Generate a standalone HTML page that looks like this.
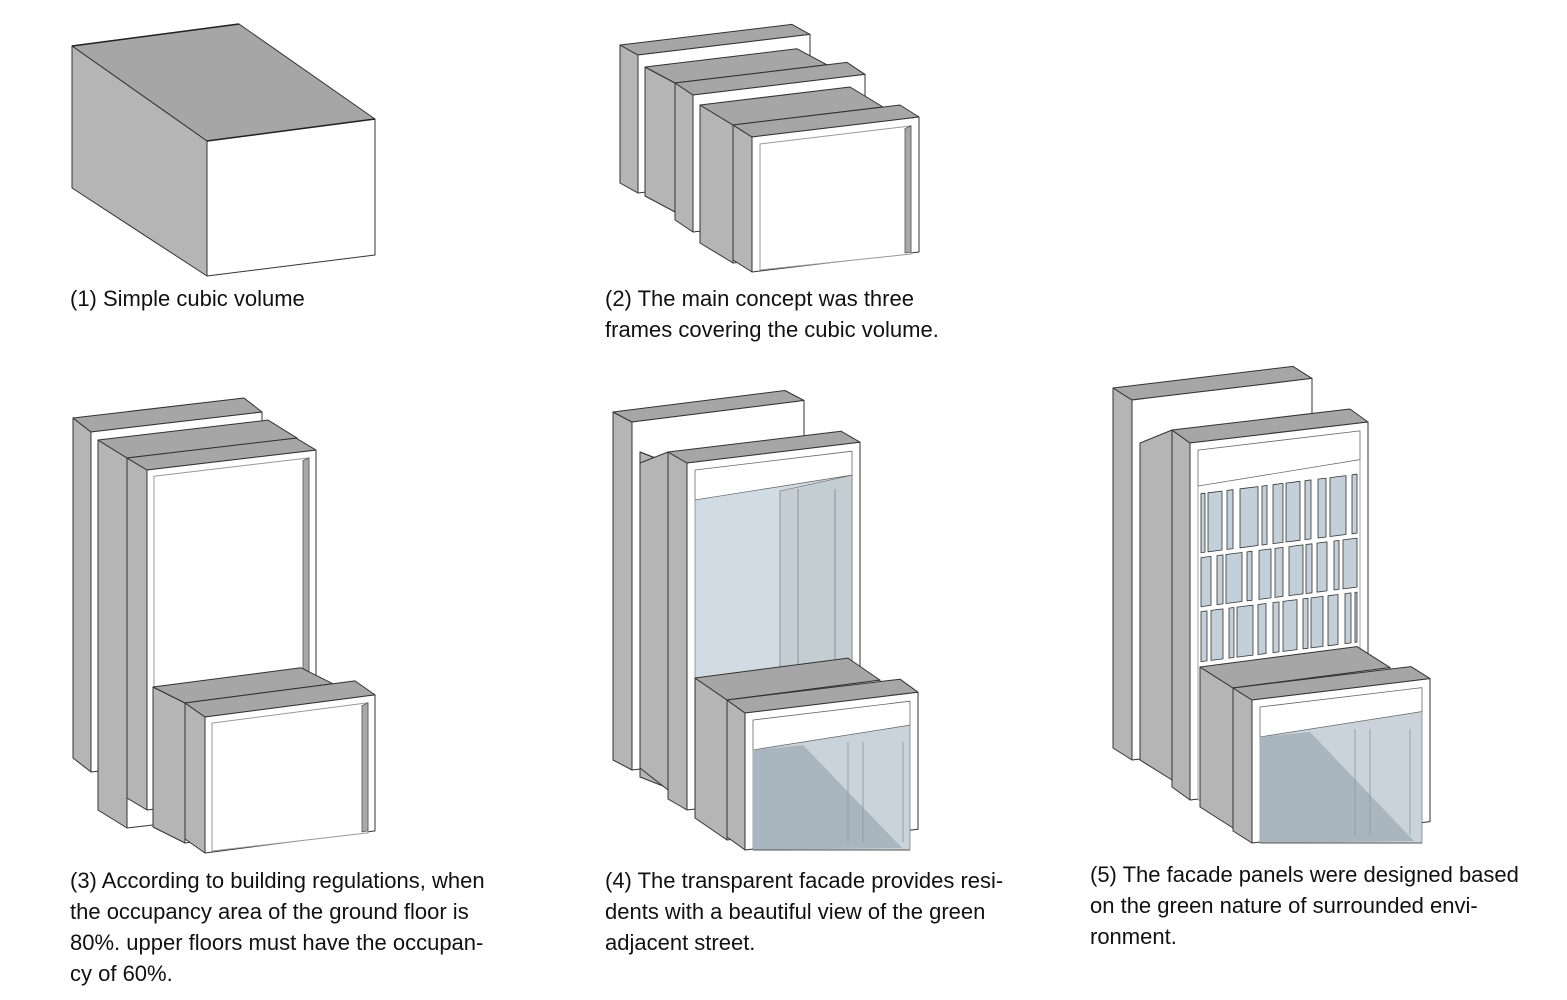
<!DOCTYPE html>
<html><head><meta charset="utf-8">
<style>
body{margin:0;background:#fff;width:1567px;height:1000px;overflow:hidden;position:relative;font-family:"Liberation Sans",sans-serif;}
.t{position:absolute;font-size:22px;line-height:31px;color:#111;white-space:nowrap;}
svg{position:absolute;left:0;top:0}
</style></head><body>
<svg id="s" width="1567" height="1000" viewBox="0 0 1567 1000"></svg>
<div class="t" style="left:70px;top:283px">(1) Simple cubic volume</div>
<div class="t" style="left:605px;top:283px">(2) The main concept was three<br>frames covering the cubic volume.</div>
<div class="t" style="left:70px;top:865px">(3) According to building regulations, when<br>the occupancy area of the ground floor is<br>80%. upper floors must have the occupan-<br>cy of 60%.</div>
<div class="t" style="left:605px;top:865px">(4) The transparent facade provides resi-<br>dents with a beautiful view of the green<br>adjacent street.</div>
<div class="t" style="left:1090px;top:859px">(5) The facade panels were designed based<br>on the green nature of surrounded envi-<br>ronment.</div>
<script>
var S=document.getElementById('s'),out='';
function poly(p,f,st,sw){out+='<polygon points="'+p.map(function(q){return q[0].toFixed(1)+','+q[1].toFixed(1)}).join(' ')+'" fill="'+f+'" stroke="'+(st||'#333')+'" stroke-width="'+(sw||1)+'" stroke-linejoin="round"/>';}
function line(a,b,c,w){out+='<line x1="'+a[0]+'" y1="'+a[1]+'" x2="'+b[0]+'" y2="'+b[1]+'" stroke="'+(c||'#555')+'" stroke-width="'+(w||1)+'"/>';}
function box(fx,fy,w,h,dx,dy,s,opt){
  opt=opt||{};
  var TL=[fx,fy],TR=[fx+w,fy-w*s],BR=[fx+w,fy-w*s+h],BL=[fx,fy+h];
  function b(p){return [p[0]-dx,p[1]-dy];}
  poly([TL,b(TL),b(BL),BL],'#b5b5b5');
  poly([b(TL),b(TR),TR,TL],'#a6a6a6');
  poly([TL,TR,BR,BL],'#fff');
  if(opt.frame){
    var t=opt.t||8;
    var y0=function(x){return fy+t-(x-fx)*s;};
    var x0=fx+t,x1=fx+w-t;
    if(opt.fill){opt.fill(x0,x1,y0,fy+h);}
    else{
      poly([[x0,y0(x0)],[x1,y0(x1)],[x1,fy+h-w*s+2],[x0,fy+h-2]],'#fff','#999',1);
      poly([[x1-6,y0(x1-6)+2],[x1,y0(x1)],[x1,fy+h-w*s],[x1-6,fy+h-w*s+1]],'#a8a8a8','#555',0.8);
    }
  }
}
poly([[72,46],[239,24],[375,119],[207,141]],'#a6a6a6');
poly([[72,46],[207,141],[207,276],[72,188]],'#b5b5b5');
poly([[207,141],[375,119],[375,255],[207,276]],'#fff');
line([72,46],[239,24],'#222',1.5);line([207,141],[375,119],'#222',1.5);

box(638,55,172,138,18,10,0.12);
box(675,83,152,129,30,16,0.12);
box(693,95,172,137,18,12,0.12);
box(733,125,150,138,33,20,0.12);
box(752,137,167,135,19,12,0.12,{frame:1,t:8});

box(91,432,171,340,18,14,0.117);
box(127,458,170,370,29,18,0.117);
box(147,470,169,340,20,12,0.118,{frame:1,t:7});
box(185,703,148,140,32,16,0.13);
box(205,717,170,136,20,14,0.13,{frame:1,t:7});

function lowerFill(x0,x1,y0,yb){
  var bt=y0(x0),band=30;
  poly([[x0,y0(x0)],[x1,y0(x1)],[x1,y0(x1)+band*0.8],[x0,bt+band]],'#fff','#666',0.8);
  var yt=bt+band;
  poly([[x0,yt],[x1,y0(x1)+band*0.8],[x1,yb],[x0,yb]],'#c9d3d9','#666',0.6);
  poly([[x0,yt],[x0+50,yt-5],[x1-8,yb-2],[x0,yb]],'#a9b6c0','none',0);
  [x0+95,x0+110,x0+150].forEach(function(x){line([x,yt-8],[x,yb-8],'#8a959c',0.8);});
  line([x0,yb],[x1,yb],'#555',1);
}
function glassFill(x0,x1,y0,yb){
  var band=30;
  poly([[x0,y0(x0)],[x1,y0(x1)],[x1,y0(x1)+band*0.8],[x0,y0(x0)+band]],'#fff','#666',0.8);
  var yt=y0(x0)+band;
  poly([[x0,yt],[x1,y0(x1)+band*0.8],[x1,yb],[x0,yb]],'#d0dbe4','#666',0.6);
  poly([[780,yt-9],[x1,y0(x1)+band*0.8],[x1,yb],[780,yb]],'#c4cdd1','#666',0.6);
  [798,835].forEach(function(x){line([x,yt-11],[x,yb],'#7a858c',0.8);});
}
function panelFill(x0,x1,y0,yb){
  var band=36;
  poly([[x0,y0(x0)],[x1,y0(x1)],[x1,y0(x1)+band*0.8],[x0,y0(x0)+band]],'#fff','#666',0.8);
  var yt=y0(x0)+band;
  poly([[x0,yt],[x1,y0(x1)+band*0.8],[x1,yb],[x0,yb]],'#fff','#666',0.6);
  var rows=[[yt+8,553],[558,607],[612,662]];
  var ws=[[4,14,6,18,5,10,14,6,8,16,5,12,7,10],[10,6,16,5,12,8,14,6,10,5,14,8,10,6],[6,12,5,16,8,6,14,5,12,10,6,14,8,5]];
  rows.forEach(function(r,ri){
    var x=x0+3,i=0;
    var skew=function(xx){return -(xx-x0)*0.125;};
    while(x<x1-3){
      var gw=ws[ri][i%ws[ri].length];var sw=3+((i*7+ri*3)%5);
      var xe=Math.min(x+gw,x1-3);
      poly([[x,r[0]+skew(x)],[xe,r[0]+skew(xe)],[xe,r[1]+skew(xe)],[x,r[1]+skew(x)]],'#c3d0da','#333',0.8);
      x=xe+sw;i++;
    }
  });
}

box(632,422,172,348,19,10,0.125);
box(668,463,0.1,325,28,11,0.125);
poly([[640,463],[668,452],[668,790],[640,768]],'#b5b5b5');
box(687,463,173,347,19,11,0.12,{frame:1,t:8,fill:glassFill});
box(727,700,153,140,32,22,0.13);
box(745,713,173,137,18,13,0.12,{frame:1,t:8,fill:lowerFill});

box(1132,400,180,360,19,12,0.12);
poly([[1140,443],[1172,430],[1172,780],[1140,760]],'#b5b5b5');
box(1190,443,178,357,18,13,0.118,{frame:1,t:8,fill:panelFill});
box(1233,688,157,140,33,21,0.13);
box(1252,700,178,143,19,12,0.12,{frame:1,t:8,fill:lowerFill});

S.innerHTML=out;
</script>
</body></html>
